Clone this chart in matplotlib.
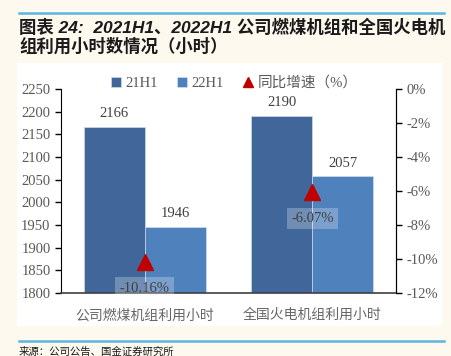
import matplotlib
matplotlib.use('Agg')
import matplotlib.pyplot as plt
from matplotlib.patches import Rectangle
from matplotlib.lines import Line2D
import numpy as np

plt.rcParams['font.family'] = ['Liberation Serif', 'Noto Sans CJK SC']

categories = ['公司燃煤机组利用小时', '全国火电机组利用小时']
h1_2021 = [2166, 2190]
h1_2022 = [1946, 2057]
growth = [-10.16, -6.07]
series_names = ['21H1', '22H1', '同比增速（%）']

c21 = '#41679a'
c22 = '#4f81bd'
tri = '#c00000'
gray = '#595959'

fig = plt.figure(figsize=(4.51, 3.56), dpi=100)
fig.patch.set_facecolor('#fdf9ef')

# white panel
fig.add_artist(Rectangle((17 / 451, 1 - 326 / 356), 425 / 451, 263 / 356,
                         transform=fig.transFigure, facecolor='white', edgecolor='none', zorder=0))
# blue rules
for yy in (13, 341):
    fig.add_artist(Line2D([19 / 451, 444 / 451], [1 - yy / 356] * 2, transform=fig.transFigure,
                          color='#5bb4e0', lw=1.8))

title_font = dict(fontsize=12.5, fontweight='bold', style='italic',
                  family=['Liberation Sans', 'Noto Sans CJK SC'], va='center', ha='left', color='#1a1a1a')
fig.text(19 / 451, 1 - 27 / 356, '图表 24:  2021H1、2022H1 公司燃煤机组和全国火电机', **title_font)
fig.text(19 / 451, 1 - 46 / 356, '组利用小时数情况（小时）', **title_font)
fig.text(19 / 451, 1 - 352 / 356, '来源：公司公告、国金证券研究所', fontsize=7.5,
         family=['Noto Sans CJK SC'], va='center', ha='left', color='#1a1a1a')

ax = fig.add_axes([61 / 451, 1 - 293 / 356, 335 / 451, (293 - 89) / 356])
ax.set_facecolor('none')
x = np.arange(len(categories))
w = 0.365
b1 = ax.bar(x - w / 2, h1_2021, w, color=c21, edgecolor='#dce4ef', linewidth=0.4, label=series_names[0], zorder=2)
b2 = ax.bar(x + w / 2, h1_2022, w, color=c22, edgecolor='#dce4ef', linewidth=0.4, label=series_names[1], zorder=2)
ax.set_ylim(1800, 2250)
ax.set_xlim(-0.5, 1.5)
ax.set_yticks(np.arange(1800, 2251, 50))
ax.set_xticks(x)
ax.set_xticklabels(categories, family=['Noto Sans CJK SC'], fontsize=10, color='#666666')
ax.tick_params(axis='x', length=0, pad=11)
ax.tick_params(axis='y', labelsize=10.5, labelcolor=gray, length=4, width=1, direction='out')
ax.spines['top'].set_visible(False)
ax.spines['left'].set_color('black')
ax.spines['bottom'].set_color('#404040')
ax.spines['bottom'].set_linewidth(1.2)

for bars, vals in ((b1, h1_2021), (b2, h1_2022)):
    for r, v in zip(bars, vals):
        ax.annotate(str(v), (r.get_x() + r.get_width() / 2, v), xytext=(0, 5),
                    textcoords='offset points', ha='center', va='bottom', fontsize=10.5, color='#404040')

ax2 = ax.twinx()
ax2.set_ylim(-12, 0)
ax2.set_yticks(np.arange(-12, 1, 2))
ax2.yaxis.set_major_formatter(matplotlib.ticker.FuncFormatter(lambda v, p: '%d%%' % v))
ax2.tick_params(axis='y', labelsize=10.5, labelcolor=gray, length=4, width=1, direction='out')
ax2.spines['top'].set_visible(False)
ax2.spines['left'].set_visible(False)
ax2.spines['bottom'].set_visible(False)
ax2.spines['right'].set_color('black')
ax2.plot(x, growth, linestyle='none', marker='^', markersize=11, color=tri, label=series_names[2], zorder=3)
for xi, g in zip(x, growth):
    ax2.annotate('%.2f%%' % g, (xi, g), xytext=(0, -19), textcoords='offset points',
                 ha='center', va='center', fontsize=10.5, color='#404040',
                 bbox=dict(boxstyle='square,pad=0.3', facecolor='white', alpha=0.25, edgecolor='none'))

handles = [b1, b2, ax2.lines[0]]
fig.legend(handles, series_names, loc='center', bbox_to_anchor=(234 / 451, 1 - 83 / 356), ncol=3,
           frameon=False, fontsize=10.5, handlelength=0.7, handleheight=0.7, handletextpad=0.3,
           columnspacing=1.3, labelcolor=gray, markerscale=0.7)

fig.savefig('out.png', dpi=100, facecolor=fig.get_facecolor())
